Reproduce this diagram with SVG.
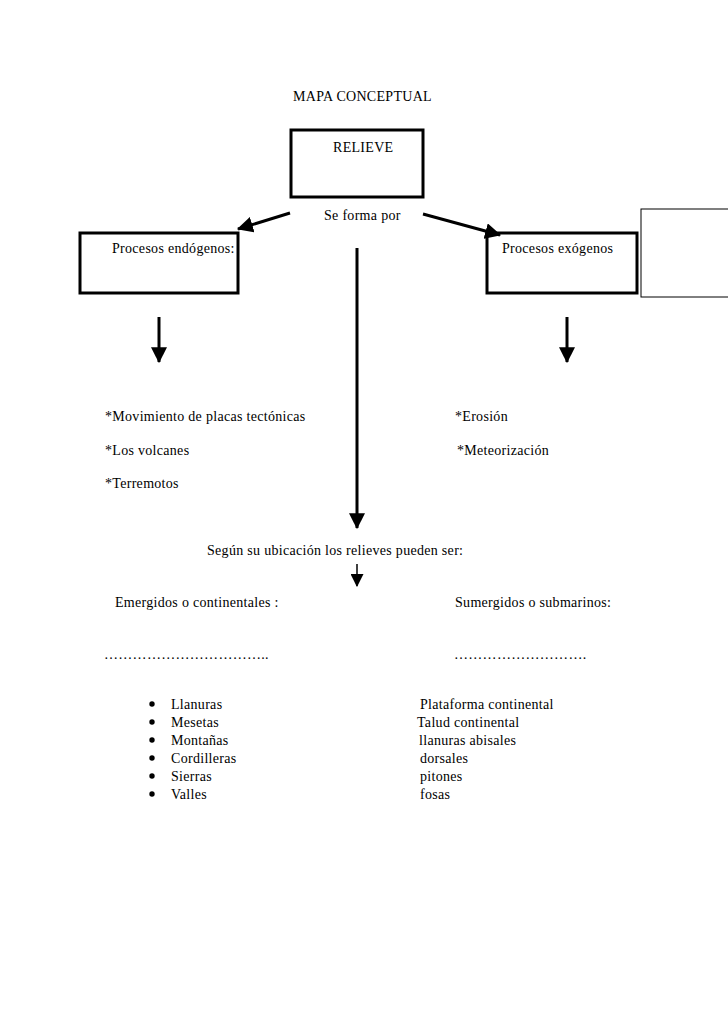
<svg xmlns="http://www.w3.org/2000/svg" width="728" height="1030" viewBox="0 0 728 1030">
<defs>
<style>
text{font-family:"Liberation Serif","Times New Roman",serif;font-size:14px;fill:#000;letter-spacing:0.3px}
.box{fill:none;stroke:#000;stroke-width:3}
.thin{fill:none;stroke:#000;stroke-width:1}
.line{stroke:#000;stroke-width:3;fill:none}
</style>
<marker id="ah" markerUnits="userSpaceOnUse" markerWidth="16" markerHeight="16" viewBox="0 0 14 14" refX="13" refY="7" orient="auto">
<path d="M0,0 L14,7 L0,14 Z" fill="#000"/>
</marker>
<marker id="ahs" markerUnits="userSpaceOnUse" markerWidth="13" markerHeight="13" viewBox="0 0 12 12" refX="11" refY="6" orient="auto">
<path d="M0,0 L12,6 L0,12 Z" fill="#000"/>
</marker>
</defs>
<rect width="728" height="1030" fill="#fff"/>
<text x="293" y="101" letter-spacing="0.5">MAPA CONCEPTUAL</text>
<g id="relieve">
<rect class="box" x="291" y="130" width="132" height="67"/>
<text x="333" y="152">RELIEVE</text>
</g>
<text x="324" y="220">Se forma por</text>
<g id="endogenos">
<rect class="box" x="80" y="233" width="158" height="60"/>
<text x="112" y="253">Procesos endógenos:</text>
</g>
<g id="exogenos">
<rect class="box" x="487" y="233" width="150" height="60"/>
<text x="502" y="253">Procesos exógenos</text>
</g>
<g id="emptybox">
<rect class="thin" x="641" y="209" width="100" height="88"/>
</g>
<g id="connectors">
<line class="line" x1="290" y1="213" x2="238" y2="229" marker-end="url(#ah)"/>
<line class="line" x1="423" y1="214" x2="500" y2="235" marker-end="url(#ah)"/>
<line class="line" x1="357" y1="248" x2="357" y2="528" marker-end="url(#ah)"/>
<line class="line" x1="159" y1="317" x2="159" y2="362" marker-end="url(#ah)"/>
<line class="line" x1="567" y1="317" x2="567" y2="362" marker-end="url(#ah)"/>
<line stroke="#000" stroke-width="1.5" x1="357" y1="564" x2="357" y2="586" marker-end="url(#ahs)"/>
</g>
<g id="endo-list">
<text x="105" y="421">*Movimiento de placas tectónicas</text>
<text x="105" y="455">*Los volcanes</text>
<text x="105" y="488">*Terremotos</text>
</g>
<g id="exo-list">
<text x="455" y="421">*Erosión</text>
<text x="457" y="455">*Meteorización</text>
</g>
<text x="207" y="555">Según su ubicación los relieves pueden ser:</text>
<g id="emergidos">
<text x="115" y="607">Emergidos o continentales :</text>
<text x="104" y="659">……………………………..</text>
<circle cx="152" cy="704" r="2.7"/><text x="171" y="709">Llanuras</text>
<circle cx="152" cy="722" r="2.7"/><text x="171" y="727">Mesetas</text>
<circle cx="152" cy="740" r="2.7"/><text x="171" y="745">Montañas</text>
<circle cx="152" cy="758" r="2.7"/><text x="171" y="763">Cordilleras</text>
<circle cx="152" cy="776" r="2.7"/><text x="171" y="781">Sierras</text>
<circle cx="152" cy="794" r="2.7"/><text x="171" y="799">Valles</text>
</g>
<g id="sumergidos">
<text x="455" y="607">Sumergidos o submarinos:</text>
<text x="454" y="659">……………………….</text>
<text x="420" y="709">Plataforma continental</text>
<text x="417" y="727">Talud continental</text>
<text x="419" y="745">llanuras abisales</text>
<text x="420" y="763">dorsales</text>
<text x="420" y="781">pitones</text>
<text x="420" y="799">fosas</text>
</g>
</svg>
